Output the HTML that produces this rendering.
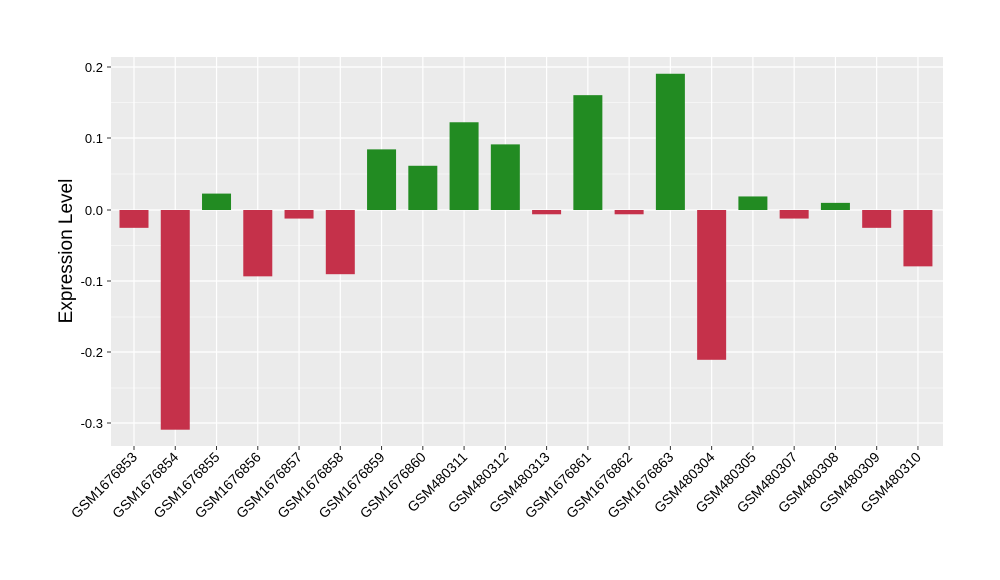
<!DOCTYPE html>
<html><head><style>body{margin:0;background:#fff}svg{display:block}text{font-family:"Liberation Sans",sans-serif}</style></head>
<body>
<svg width="1000" height="580" viewBox="0 0 1000 580" xmlns="http://www.w3.org/2000/svg">
<rect x="111" y="57" width="832" height="389" fill="#EBEBEB"/>
<g stroke="#fff" stroke-width="0.6">
<line x1="111" x2="943" y1="102.5" y2="102.5"/><line x1="111" x2="943" y1="174" y2="174"/>
<line x1="111" x2="943" y1="245.5" y2="245.5"/><line x1="111" x2="943" y1="317" y2="317"/>
<line x1="111" x2="943" y1="388" y2="388"/>
</g>
<g stroke="#fff" stroke-width="1.2" id="grid"></g>
<g id="bars"></g>
<g id="labels" font-size="14" fill="#000"></g>
<g font-size="13" fill="#000" text-anchor="end">
<text x="103" y="72">0.2</text><text x="103" y="143">0.1</text><text x="103" y="215">0.0</text>
<text x="103" y="286">-0.1</text><text x="103" y="357">-0.2</text><text x="103" y="428">-0.3</text>
</g>
<g stroke="#333" stroke-width="1">
<line x1="107" x2="111" y1="67" y2="67"/><line x1="107" x2="111" y1="138" y2="138"/><line x1="107" x2="111" y1="210" y2="210"/>
<line x1="107" x2="111" y1="281" y2="281"/><line x1="107" x2="111" y1="352" y2="352"/><line x1="107" x2="111" y1="423" y2="423"/>
</g>
<text transform="translate(72,251) rotate(-90)" font-size="19" text-anchor="middle">Expression Level</text>
<script>
var names=["GSM1676853","GSM1676854","GSM1676855","GSM1676856","GSM1676857","GSM1676858","GSM1676859","GSM1676860","GSM480311","GSM480312","GSM480313","GSM1676861","GSM1676862","GSM1676863","GSM480304","GSM480305","GSM480307","GSM480308","GSM480309","GSM480310"];
var vals=[-0.025,-0.308,0.023,-0.093,-0.012,-0.09,0.085,0.062,0.123,0.092,-0.006,0.161,-0.006,0.191,-0.21,0.019,-0.012,0.01,-0.025,-0.079];
var ns="http://www.w3.org/2000/svg",g=document.getElementById("grid"),b=document.getElementById("bars"),l=document.getElementById("labels");
function el(t,a,p){var e=document.createElementNS(ns,t);for(var k in a)e.setAttribute(k,a[k]);p.appendChild(e);return e;}
[67,138,210,281,352,423].forEach(function(y){el("line",{x1:111,x2:943,y1:y,y2:y},g);});
for(var i=0;i<20;i++){var cx=134+i*41.26;el("line",{x1:cx,x2:cx,y1:57,y2:446},g);
var v=vals[i],y0=210,y1=210-v*713.3;
el("rect",{x:cx-14.5,width:29,y:Math.min(y0,y1),height:Math.abs(y1-y0),fill:v>0?"#228B22":"#C5314A"},b);
el("line",{x1:cx,x2:cx,y1:446,y2:450,stroke:"#333"},l);
var t=el("text",{"text-anchor":"end",transform:"translate("+(cx+4)+",458) rotate(-45)"},l);t.textContent=names[i];}
</script>
</svg>
</body></html>
